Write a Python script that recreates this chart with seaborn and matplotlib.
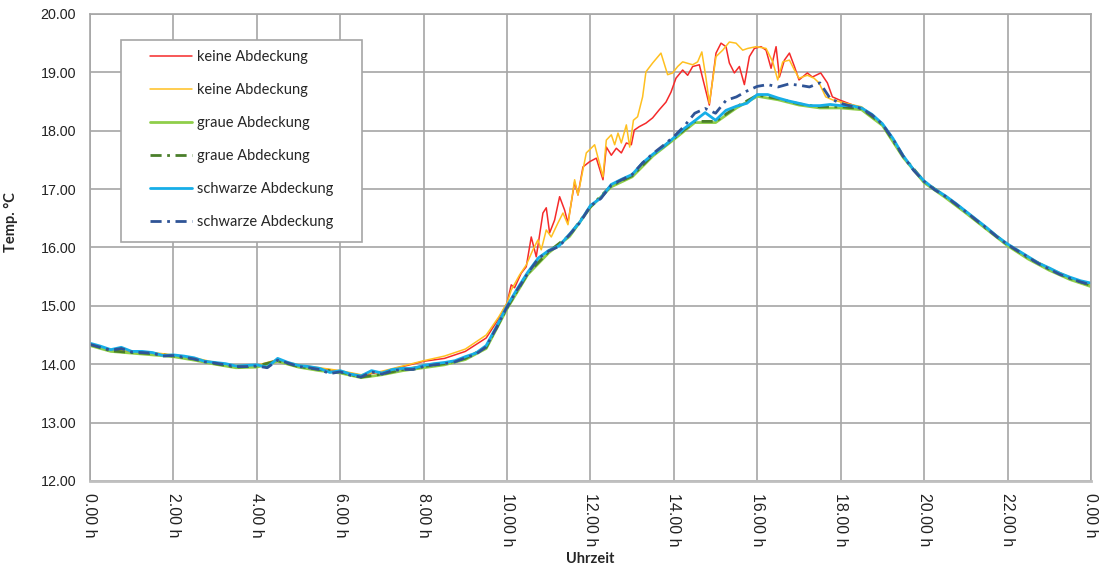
import numpy as np
import matplotlib
matplotlib.use("Agg")
import matplotlib.pyplot as plt
import seaborn as sns
from matplotlib.patches import Rectangle
from matplotlib.ticker import MultipleLocator, FormatStrFormatter

# --- data ---
hours_q = np.arange(0, 24.01, 0.25)   # quarter-hour samples
hours_h = np.arange(0, 24.01, 0.5)    # half-hour samples

# schwarze Abdeckung (solid, cyan)
schwarz_1 = [
    14.36, 14.31, 14.25, 14.29, 14.22, 14.22, 14.20, 14.15,
    14.16, 14.14, 14.11, 14.05, 14.03, 14.01, 13.97, 13.98,
    13.99, 13.95, 14.10, 14.03, 13.98, 13.96, 13.93, 13.86,
    13.89, 13.83, 13.80, 13.89, 13.85, 13.91, 13.93, 13.93,
    13.98, 14.01, 14.03, 14.06, 14.13, 14.19, 14.32, 14.65,
    15.00, 15.30, 15.58, 15.82, 15.95, 16.03, 16.23, 16.44,
    16.72, 16.85, 17.08, 17.17, 17.25, 17.45, 17.60, 17.73,
    17.88, 18.04, 18.17, 18.31, 18.18, 18.35, 18.42, 18.47,
    18.62, 18.62, 18.56, 18.51, 18.47, 18.43, 18.43, 18.45,
    18.43, 18.43, 18.39, 18.28, 18.12, 17.87, 17.57, 17.33,
    17.14, 17.00, 16.89, 16.76, 16.62, 16.48, 16.34, 16.19,
    16.06, 15.95, 15.84, 15.73, 15.65, 15.56, 15.49, 15.43,
    15.39,
]

# schwarze Abdeckung (dash-dot, dark blue)
schwarz_2 = [
    14.34, 14.29, 14.24, 14.27, 14.21, 14.20, 14.19, 14.14,
    14.15, 14.12, 14.09, 14.04, 14.02, 13.99, 13.96, 13.96,
    13.97, 13.94, 14.07, 14.02, 13.96, 13.94, 13.91, 13.84,
    13.87, 13.81, 13.78, 13.87, 13.83, 13.89, 13.91, 13.91,
    13.96, 13.99, 14.01, 14.04, 14.11, 14.17, 14.30, 14.63,
    14.98, 15.28, 15.56, 15.81, 15.94, 16.02, 16.22, 16.43,
    16.71, 16.84, 17.07, 17.16, 17.25, 17.45, 17.61, 17.75,
    17.90, 18.08, 18.30, 18.38, 18.30, 18.52, 18.58, 18.68,
    18.76, 18.79, 18.75, 18.80, 18.78, 18.75, 18.82, 18.55,
    18.47, 18.42, 18.38, 18.27, 18.11, 17.86, 17.56, 17.32,
    17.13, 16.99, 16.88, 16.75, 16.61, 16.47, 16.33, 16.18,
    16.05, 15.94, 15.83, 15.72, 15.63, 15.54, 15.47, 15.41,
    15.36,
]

# graue Abdeckung (solid, light green)
grau_1 = [
    14.32, 14.22, 14.19, 14.16, 14.13, 14.07, 14.00, 13.94,
    13.95, 14.05, 13.95, 13.89, 13.85, 13.77, 13.82, 13.89,
    13.94, 13.99, 14.08, 14.27, 14.95, 15.54, 15.91, 16.19,
    16.69, 17.04, 17.21, 17.57, 17.85, 18.14, 18.14, 18.39,
    18.59, 18.53, 18.44, 18.39, 18.39, 18.36, 18.09, 17.54,
    17.11, 16.86, 16.59, 16.31, 16.03, 15.80, 15.61, 15.45,
    15.33,
]

# graue Abdeckung (dash-dot, dark green)
grau_2 = [
    14.34, 14.23, 14.20, 14.18, 14.14, 14.09, 14.01, 13.95,
    13.97, 14.06, 13.96, 13.91, 13.87, 13.78, 13.83, 13.91,
    13.96, 14.01, 14.10, 14.29, 14.97, 15.56, 15.93, 16.21,
    16.70, 17.06, 17.23, 17.59, 17.87, 18.16, 18.16, 18.41,
    18.61, 18.55, 18.46, 18.41, 18.41, 18.38, 18.11, 17.56,
    17.13, 16.88, 16.61, 16.32, 16.05, 15.82, 15.63, 15.47,
    15.35,
]

# keine Abdeckung (red)
hours_red = [
    0, 0.5, 1, 1.5, 2, 2.5, 3, 3.5, 4, 4.5, 5, 5.5, 6, 6.5, 7, 7.5, 8, 8.5, 9, 9.5,
    9.8, 10.0, 10.1, 10.18, 10.34, 10.46, 10.58, 10.7, 10.86, 10.94,
    11.02, 11.14, 11.26, 11.38, 11.46, 11.62, 11.7, 11.82, 11.98,
    12.14, 12.3, 12.38, 12.5, 12.62, 12.74, 12.86, 12.98,
    13.05, 13.17, 13.33, 13.49, 13.65, 13.81, 13.93,
    14.05, 14.21, 14.33, 14.45, 14.61, 14.85,
    15.01, 15.13, 15.25, 15.33, 15.45, 15.57, 15.69, 15.81, 15.93,
    16.09, 16.21, 16.33, 16.45, 16.53, 16.65, 16.77, 16.89,
    17.0, 17.2, 17.32, 17.52, 17.68, 17.8, 17.96,
    18.44, 19, 19.5, 20, 20.5, 21, 21.5, 22, 22.5, 23, 23.5, 24,
]
keine_1 = [
    14.33, 14.24, 14.22, 14.19, 14.15, 14.10, 14.02, 13.97, 13.97, 14.07,
    13.98, 13.93, 13.88, 13.81, 13.87, 13.96, 14.05, 14.10, 14.22, 14.45,
    14.78, 15.05, 15.36, 15.31, 15.56, 15.67, 16.18, 15.84, 16.59, 16.68,
    16.25, 16.47, 16.87, 16.64, 16.42, 17.12, 16.90, 17.38, 17.47,
    17.53, 17.16, 17.72, 17.58, 17.70, 17.62, 17.79, 17.76,
    18.01, 18.07, 18.13, 18.22, 18.36, 18.49, 18.66,
    18.90, 19.04, 18.95, 19.10, 19.13, 18.44,
    19.33, 19.50, 19.44, 19.16, 18.99, 19.10, 18.79, 19.27, 19.41,
    19.44, 19.38, 19.07, 19.44, 18.92, 19.21, 19.33, 19.10,
    18.87, 18.99, 18.92, 18.99, 18.82, 18.58, 18.53,
    18.40, 18.10, 17.55, 17.12, 16.88, 16.61, 16.33, 16.05, 15.83, 15.64, 15.48, 15.35,
]

# keine Abdeckung (yellow)
hours_yel = [
    0, 0.5, 1, 1.5, 2, 2.5, 3, 3.5, 4, 4.5, 5, 5.5, 6, 6.5, 7, 7.5, 8, 8.5, 9, 9.5,
    9.8, 10.0, 10.1, 10.3, 10.46, 10.62, 10.74, 10.82, 10.94,
    11.06, 11.22, 11.34, 11.46, 11.62, 11.7, 11.9,
    12.1, 12.3, 12.38, 12.5, 12.58, 12.66, 12.74, 12.86, 12.94,
    13.03, 13.13, 13.25, 13.33, 13.49, 13.69, 13.85, 13.97,
    14.09, 14.21, 14.45, 14.57, 14.67, 14.77, 14.85,
    15.01, 15.17, 15.33, 15.49, 15.65, 15.77, 15.97,
    16.21, 16.37, 16.49, 16.61, 16.77, 16.89,
    17.0, 17.2, 17.36, 17.48, 17.64, 17.8,
    18.12, 18.5, 19, 19.5, 20, 20.5, 21, 21.5, 22, 22.5, 23, 23.5, 24,
]
keine_2 = [
    14.34, 14.25, 14.23, 14.20, 14.16, 14.11, 14.03, 13.98, 13.98, 14.08,
    13.99, 13.94, 13.89, 13.82, 13.88, 13.97, 14.06, 14.14, 14.26, 14.50,
    14.81, 15.05, 15.27, 15.53, 15.70, 15.96, 16.13, 15.96, 16.30,
    16.18, 16.42, 16.59, 16.39, 17.16, 16.90, 17.62,
    17.76, 17.21, 17.84, 17.93, 17.76, 17.96, 17.79, 18.10, 17.72,
    18.18, 18.24, 18.58, 19.01, 19.16, 19.33, 18.96, 18.99,
    19.10, 19.18, 19.13, 19.18, 19.35, 18.90, 18.47,
    19.27, 19.38, 19.52, 19.50, 19.38, 19.41, 19.44,
    19.41, 19.18, 18.87, 19.18, 19.21, 19.04,
    18.90, 18.95, 18.90, 18.82, 18.58, 18.53,
    18.47, 18.41, 18.11, 17.56, 17.13, 16.89, 16.62, 16.34, 16.06, 15.84, 15.65, 15.49, 15.36,
]

y_ticks = [12, 13, 14, 15, 16, 17, 18, 19, 20]
x_ticks = [0, 2, 4, 6, 8, 10, 12, 14, 16, 18, 20, 22, 24]
x_tick_labels = ["0.00 h", "2.00 h", "4.00 h", "6.00 h", "8.00 h", "10.00 h", "12.00 h",
                 "14.00 h", "16.00 h", "18.00 h", "20.00 h", "22.00 h", "0.00 h"]

sns.set_style("white")
plt.rcParams['font.family'] = ['Liberation Sans', 'DejaVu Sans']

fig = plt.figure(figsize=(11.04, 5.66), dpi=100)
ax = fig.add_axes([0.0815, 0.1502, 0.9067, 0.8251])

dashdot = (0, (4, 2, 1, 2))
series = [
    (hours_red, keine_1, '#f52a2a', 1.1, '-', 'keine Abdeckung'),
    (hours_yel, keine_2, '#ffc020', 1.1, '-', 'keine Abdeckung'),
    (hours_h, grau_1, '#8fce4a', 2.0, '-', 'graue Abdeckung'),
    (hours_h, grau_2, '#4a7f2a', 2.0, dashdot, 'graue Abdeckung'),
    (hours_q, schwarz_1, '#16aee8', 2.0, '-', 'schwarze Abdeckung'),
    (hours_q, schwarz_2, '#2f5496', 2.0, dashdot, 'schwarze Abdeckung'),
]
for xs, ys, col, lw, ls, lab in series:
    sns.lineplot(x=xs, y=ys, ax=ax, color=col, linewidth=lw, linestyle=ls, label=lab)

ax.set_xlim(0, 24)
ax.set_ylim(12, 20)
ax.set_xticks(x_ticks)
ax.set_xticklabels(x_tick_labels, rotation=-90, fontsize=11.5)
ax.set_yticks(y_ticks)
ax.yaxis.set_major_formatter(FormatStrFormatter('%.2f'))
ax.yaxis.set_minor_locator(MultipleLocator(0.5))
ax.tick_params(axis='x', length=0, pad=9, colors='#222222')
ax.tick_params(axis='y', which='major', length=0, pad=10, labelsize=10.3, colors='#222222')
ax.tick_params(axis='y', which='minor', direction='in', length=4, color='#a6a6a6')
ax.grid(True, color='#a6a6a6', linewidth=1.2)
for side in ['left', 'top', 'right']:
    ax.spines[side].set_color('#a6a6a6')
    ax.spines[side].set_linewidth(1.2)
ax.spines['bottom'].set_color('#bfbfbf')
ax.spines['bottom'].set_linewidth(2)

label_font = {'family': ['Lato', 'DejaVu Sans'], 'weight': 'bold', 'size': 10.5}
ax.set_ylabel('Temp. °C', fontdict=label_font)
ax.set_xlabel('Uhrzeit', fontdict=label_font)
ax.yaxis.set_label_coords(-0.072, 0.555)
ax.xaxis.set_label_coords(0.5, -0.152)

# legend with its own white box
ax.add_patch(Rectangle((0.031, 0.511), 0.241, 0.433, transform=ax.transAxes,
                       facecolor='white', edgecolor='#a6a6a6', linewidth=1.2, zorder=4))
ax.legend(loc='upper left', bbox_to_anchor=(0.06, 0.923), borderaxespad=0, borderpad=0,
          frameon=False, handlelength=2.9, handletextpad=0.3, labelspacing=1.3,
          prop={'family': ['Lato', 'DejaVu Sans'], 'size': 10.5})

plt.savefig('out.png', dpi=100)
plt.close()
